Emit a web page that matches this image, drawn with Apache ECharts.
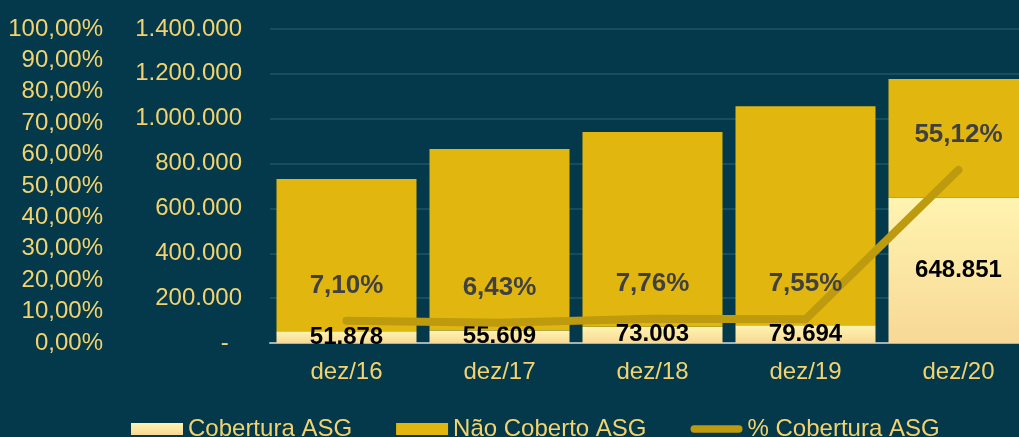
<!DOCTYPE html>
<html>
<head>
<meta charset="utf-8">
<script src="https://cdn.jsdelivr.net/npm/echarts@6/dist/echarts.min.js"></script>
<style>
  html, body { margin: 0; padding: 0; background: #03394B; }
  #chart { width: 1019px; height: 437px; }
</style>
</head>
<body>
<div id="chart"></div>
<script>
var categories = ['dez/16', 'dez/17', 'dez/18', 'dez/19', 'dez/20'];
var coberto = [51878, 55609, 73003, 79694, 648851];
var naoCoberto = [678800, 809200, 867800, 975900, 528300];
var pctCobertura = [7.10, 6.43, 7.76, 7.55, 55.12];

var txtColor = '#F2D36F';
var fontFam = '"Liberation Sans", Arial, sans-serif';

function fmtNum(v) {
    if (v === 0) return '-  ';
    return String(Math.round(v)).replace(/\B(?=(\d{3})+(?!\d))/g, '.');
}
function fmtPct(v) {
    return v.toFixed(2).replace('.', ',') + '%';
}

var option = {
    backgroundColor: '#03394B',
    animation: false,
    textStyle: { fontFamily: fontFam },
    grid: { left: 270, top: 29, width: 765, height: 314, outerBoundsMode: 'none', containLabel: false },
    legend: {
        left: 126,
        top: 412,
        itemWidth: 52,
        itemHeight: 12,
        itemGap: 44,
        textStyle: { color: txtColor, fontSize: 24, fontFamily: fontFam },
        data: [
            { name: 'Cobertura ASG', icon: 'rect' },
            { name: 'Não Coberto ASG', icon: 'rect' },
            { name: '% Cobertura ASG', icon: 'path://M4,0 L52,0 A4,4 0 0 1 52,8 L4,8 A4,4 0 0 1 4,0 Z' }
        ]
    },
    xAxis: {
        type: 'category',
        data: categories,
        axisTick: { show: false },
        axisLine: { lineStyle: { color: '#9FB3BB', width: 2 } },
        axisLabel: { color: txtColor, fontSize: 24, margin: 17, fontFamily: fontFam }
    },
    yAxis: [
        {
            type: 'value',
            position: 'left',
            min: 0, max: 1400000, interval: 200000,
            axisLine: { show: false },
            axisTick: { show: false },
            splitLine: { lineStyle: { color: '#1D5468', width: 1.5 } },
            axisLabel: { color: txtColor, fontSize: 24, margin: 28, formatter: fmtNum, fontFamily: fontFam }
        },
        {
            type: 'value',
            position: 'left',
            offset: 139,
            min: 0, max: 100, interval: 10,
            axisLine: { show: false },
            axisTick: { show: false },
            splitLine: { show: false },
            axisLabel: { color: txtColor, fontSize: 24, margin: 28, formatter: fmtPct, fontFamily: fontFam }
        }
    ],
    series: [
        {
            name: 'Cobertura ASG',
            type: 'bar',
            stack: 'total',
            barWidth: '91.5%',
            data: coberto,
            itemStyle: {
                color: new echarts.graphic.LinearGradient(0, 0, 0, 1, [
                    { offset: 0, color: '#FFF4B0' },
                    { offset: 1, color: '#F8D896' }
                ])
            },
            label: {
                show: true,
                position: 'inside',
                color: '#000',
                fontSize: 24,
                fontWeight: 'bold',
                fontFamily: fontFam,
                formatter: function (p) { return fmtNum(p.value); }
            }
        },
        {
            name: 'Não Coberto ASG',
            type: 'bar',
            stack: 'total',
            barWidth: '91.5%',
            data: naoCoberto,
            itemStyle: { color: '#E1B60F' }
        },
        {
            name: '% Cobertura ASG',
            type: 'line',
            yAxisIndex: 1,
            data: pctCobertura,
            showSymbol: true,
            symbol: 'circle',
            symbolSize: 0.1,
            lineStyle: { color: '#BE9A0E', width: 8, cap: 'round', join: 'round' },
            itemStyle: { color: '#BE9A0E' },
            label: {
                show: true,
                position: 'top',
                distance: 22,
                color: '#404040',
                fontSize: 26,
                fontWeight: 'bold',
                fontFamily: fontFam,
                formatter: function (p) { return fmtPct(p.value); }
            }
        }
    ]
};

echarts.init(document.getElementById('chart')).setOption(option);
</script>
</body>
</html>
